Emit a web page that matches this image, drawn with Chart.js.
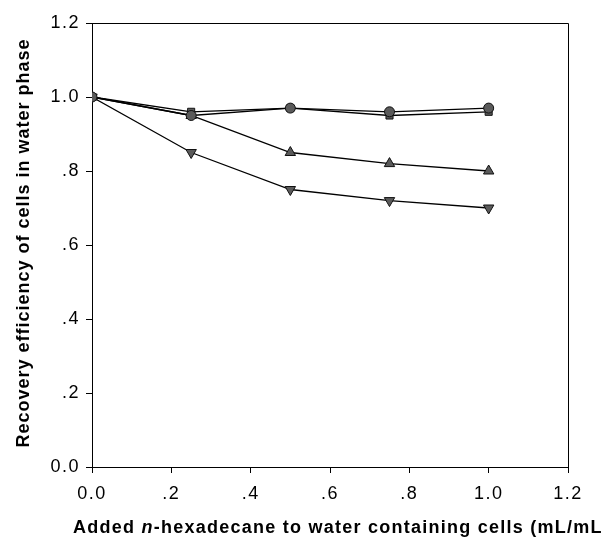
<!DOCTYPE html>
<html>
<head>
<meta charset="utf-8">
<script src="https://cdn.jsdelivr.net/npm/chart.js@4.4.1/dist/chart.umd.min.js"></script>
<style>
  html, body { margin: 0; padding: 0; background: #fff; }
  #wrap { width: 602px; height: 544px; }
</style>
</head>
<body>
<div id="wrap"><canvas id="chart"></canvas></div>
<script>
// added n-hexadecane (mL/mL)
const volumes = [0.0, 0.25, 0.5, 0.75, 1.0];

const circleSeries = [1.0, 0.95, 0.97, 0.96, 0.97];
const squareSeries = [1.0, 0.96, 0.97, 0.95, 0.96];
const upTriSeries = [1.0, 0.95, 0.85, 0.82, 0.80];
const downTriSeries = [1.0, 0.85, 0.75, 0.72, 0.70];

const xTitle = ['Added ', 'n', '-hexadecane to water containing cells (mL/mL'];
const yTitle = 'Recovery efficiency of cells in water phase';

const FONT = '"Liberation Sans", Arial, sans-serif';

const fmt = v => {
    const s = Number(v).toFixed(1);
    return s.startsWith('0.') && Number(v) !== 0 ? s.slice(1) : s;
};

const toPoints = arr => arr.map((y, i) => ({x: volumes[i], y: y}));

const mkSet = (label, arr, style, rot) => ({
    label: label,
    data: toPoints(arr),
    showLine: true,
    borderColor: '#000',
    borderWidth: 1.3,
    backgroundColor: '#5a5a5a',
    pointBackgroundColor: '#5a5a5a',
    pointBorderColor: '#111',
    pointBorderWidth: 1,
    pointStyle: style,
    pointRotation: rot || 0,
    pointRadius: style === 'triangle' ? 6 : 5,
    tension: 0
});

// scanned figure has wide letter spacing
const spacing = {
    id: 'spacing',
    beforeLayout(chart) { chart.ctx.letterSpacing = '1.5px'; },
    beforeDraw(chart) { chart.ctx.letterSpacing = '1.5px'; }
};

const frameAndTitles = {
    id: 'frameAndTitles',
    afterDraw(chart) {
        const ctx = chart.ctx;
        const a = chart.chartArea;
        ctx.save();
        ctx.strokeStyle = '#000';
        ctx.lineWidth = 1;
        ctx.beginPath();
        ctx.moveTo(a.left, a.top + 0.5);
        ctx.lineTo(a.right + 0.5, a.top + 0.5);
        ctx.lineTo(a.right + 0.5, a.bottom);
        ctx.stroke();

        // y title
        ctx.fillStyle = '#000';
        ctx.letterSpacing = '1px';
        ctx.font = 'bold 18px ' + FONT;
        ctx.textAlign = 'center';
        ctx.textBaseline = 'middle';
        ctx.translate(24, (a.top + a.bottom) / 2 - 2);
        ctx.rotate(-Math.PI / 2);
        ctx.fillText(yTitle, 0, 0);
        ctx.restore();

        // x title, with italic n
        ctx.save();
        ctx.fillStyle = '#000';
        ctx.letterSpacing = '1.25px';
        ctx.textBaseline = 'middle';
        ctx.textAlign = 'left';
        let x = 73;
        const y = 528;
        xTitle.forEach((part, i) => {
            ctx.font = (i === 1 ? 'italic ' : '') + 'bold 18px ' + FONT;
            ctx.fillText(part, x, y);
            x += ctx.measureText(part).width;
        });
        ctx.restore();
    }
};

const axisCommon = {
    type: 'linear',
    min: 0,
    max: 1.2,
    border: {display: true, color: '#000', width: 1},
    grid: {drawOnChartArea: false, drawTicks: true, tickLength: 6, color: '#000'},
    ticks: {
        stepSize: 0.2,
        color: '#000',
        font: {family: FONT, size: 18},
        callback: v => fmt(v)
    }
};

new Chart(document.getElementById('chart'), {
    type: 'scatter',
    data: {
        datasets: [
            mkSet('circle', circleSeries, 'circle'),
            mkSet('square', squareSeries, 'rect'),
            mkSet('up', upTriSeries, 'triangle', 0),
            mkSet('down', downTriSeries, 'triangle', 180)
        ]
    },
    options: {
        responsive: true,
        maintainAspectRatio: false,
        animation: false,
        layout: {padding: {top: 23, right: 34, left: 0, bottom: 0}},
        plugins: {legend: {display: false}, tooltip: {enabled: false}},
        scales: {
            x: Object.assign({}, axisCommon, {
                ticks: Object.assign({}, axisCommon.ticks, {padding: 10}),
                afterFit: s => { s.height = 77; }
            }),
            y: Object.assign({}, axisCommon, {
                ticks: Object.assign({}, axisCommon.ticks, {padding: 6}),
                afterFit: s => { s.width = 92; }
            })
        }
    },
    plugins: [spacing, frameAndTitles]
});
</script>
</body>
</html>
